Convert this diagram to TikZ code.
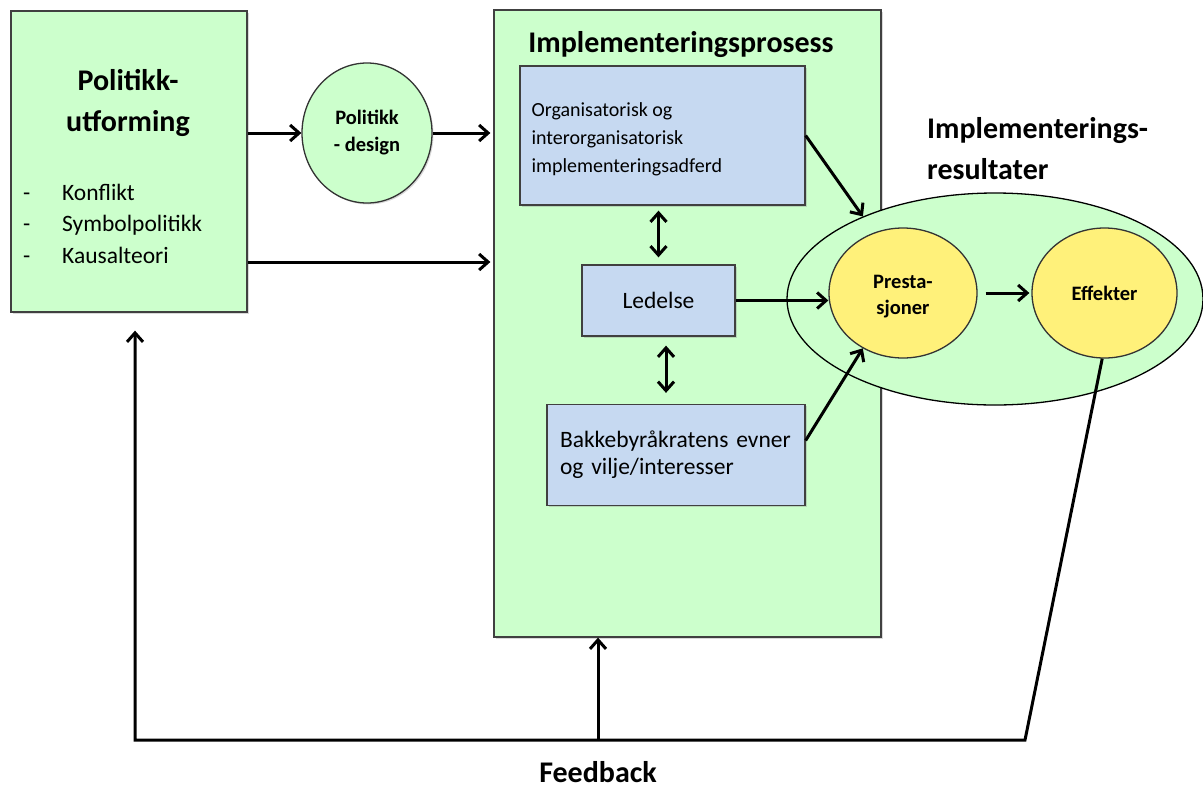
\documentclass[tikz,border=0pt]{standalone}
\usepackage{fontspec}
\setmainfont{Carlito}
\usetikzlibrary{arrows.meta,shapes.geometric,shadows}
\definecolor{lysgronn}{RGB}{204,255,204}
\definecolor{lysblaa}{RGB}{198,217,241}
\definecolor{lysgul}{RGB}{255,241,122}

\begin{document}
\begin{tikzpicture}[x=1pt,y=-1pt,
	skygge/.style={drop shadow={shadow xshift=1.5pt,shadow yshift=-1.5pt,opacity=.3}},
	gronnboks/.style={draw=black!75, line width=1.3pt, fill=lysgronn, skygge, inner sep=0pt},
	blaaboks/.style={draw=black!75, line width=1.3pt, fill=lysblaa, skygge, inner sep=0pt},
	gulsirkel/.style={ellipse, draw=black!80, line width=1.3pt, fill=lysgul, inner sep=0pt, align=center, font=\bfseries\fontsize{20.5}{26}\selectfont},
	tittel/.style={font=\bfseries\fontsize{30}{41}\selectfont, inner sep=0pt},
	liten/.style={font=\fontsize{23.5}{27}\selectfont, inner sep=0pt},
	pil/.style={-{Straight Barb[length=9pt,width=16pt]}, line width=3pt},
	dobbelpil/.style={{Straight Barb[length=9pt,width=16pt]}-{Straight Barb[length=9pt,width=16pt]}, line width=3pt}]
	\useasboundingbox (0,0) rectangle (1203,788);

	% bokser
	\node[gronnboks, minimum width=387pt, minimum height=627pt] (impl) at (687.5,323.5) {};
	\node[tittel, anchor=base] (impltittel) at (681,52) {Implementeringsprosess};
	\node[gronnboks, minimum width=236pt, minimum height=301pt] (pol) at (129,161.5) {};
	\node[tittel, align=center] (poltittel) at (128,103) {Politikk-\\utforming};
	\foreach \tekst [count=\i] in {Konflikt,Symbolpolitikk,Kausalteori} {
		\node[liten, anchor=base west] (strek\i) at (23,168.5+31.5*\i) {-};
		\node[liten, anchor=base west] (punkt\i) at (62,168.5+31.5*\i) {\tekst};
	}
	\node[ellipse, draw=black!80, line width=1.3pt, fill=lysgronn, skygge, minimum width=130pt, minimum height=140pt, inner sep=0pt, align=center, font=\bfseries\fontsize{20.5}{27}\selectfont] (design) at (367,133) {Politikk\\- design};

	\node[blaaboks, minimum width=285pt, minimum height=139pt] (org) at (662.5,135.5) {};
	\node[align=left, anchor=west, inner sep=0pt, font=\fontsize{20}{28}\selectfont] (orgtekst) at ([xshift=12pt,yshift=-4pt]org.west) {Organisatorisk og\\interorganisatorisk\\implementeringsadferd};
	\node[blaaboks, minimum width=153pt, minimum height=71pt, liten] (led) at (658.5,300.5) {Ledelse};
	\node[blaaboks, minimum width=258pt, minimum height=101pt, text width=232pt, align=left, liten] (bakke) at (676,455) {Bakkebyråkratens evner\\og vilje/interesser};

	% resultater
	\node[ellipse, draw=black, line width=1.3pt, fill=lysgronn, minimum width=416pt, minimum height=212pt] (res) at (995,299) {};
	\node[tittel, align=left, anchor=west] (restittel) at (927,149) {Implementerings-\\resultater};
	\node[gulsirkel, minimum width=148pt, minimum height=130pt] (presta) at (903,293) {};
	\node[align=center, inner sep=0pt, font=\bfseries\fontsize{20.5}{26}\selectfont] (prestatekst) at ([yshift=-4pt]presta) {Presta-\\sjoner};
	\node[gulsirkel, minimum width=145pt, minimum height=130pt] (eff) at (1104.5,293) {Effekter};

	% piler
	\draw[pil] (pol.east |- design) -- (design.west);
	\draw[pil] (design.east) -- ([xshift=-3pt]design.east -| impl.west);
	\draw[pil] ([yshift=-100.5pt]pol.east) -- ([yshift=-100.5pt,xshift=-3pt]pol.east -| impl.west);
	\draw[dobbelpil, shorten <=5pt, shorten >=7pt] (led.north |- org.south) -- (led.north);
	\draw[dobbelpil, shorten <=9pt, shorten >=11pt] ([xshift=7.5pt]led.south) -- ([xshift=7.5pt]led.south |- bakke.north);
	\draw[pil] (org.east) -- (res.148);
	\draw[pil] (led.east) -- (led.east -| presta.west);
	\draw[pil] ([yshift=14.5pt]bakke.east) -- (presta.234);
	\draw[pil, shorten <=8pt, shorten >=2pt] (presta.east) -- (presta.east -| eff.west);

	% feedback
	\coordinate (fbH) at (1025,740);
	\coordinate (fbV) at (135,740);
	\coordinate (fbM) at (598,740);
	\draw[pil] (eff.268) -- (fbH) -- (fbV) -- ([yshift=-18pt]fbV |- pol.south);
	\draw[pil] (fbM) -- (fbM |- impl.south);
	\node[tittel, anchor=base] (fbtekst) at (598,782) {Feedback};
\end{tikzpicture}
\end{document}
